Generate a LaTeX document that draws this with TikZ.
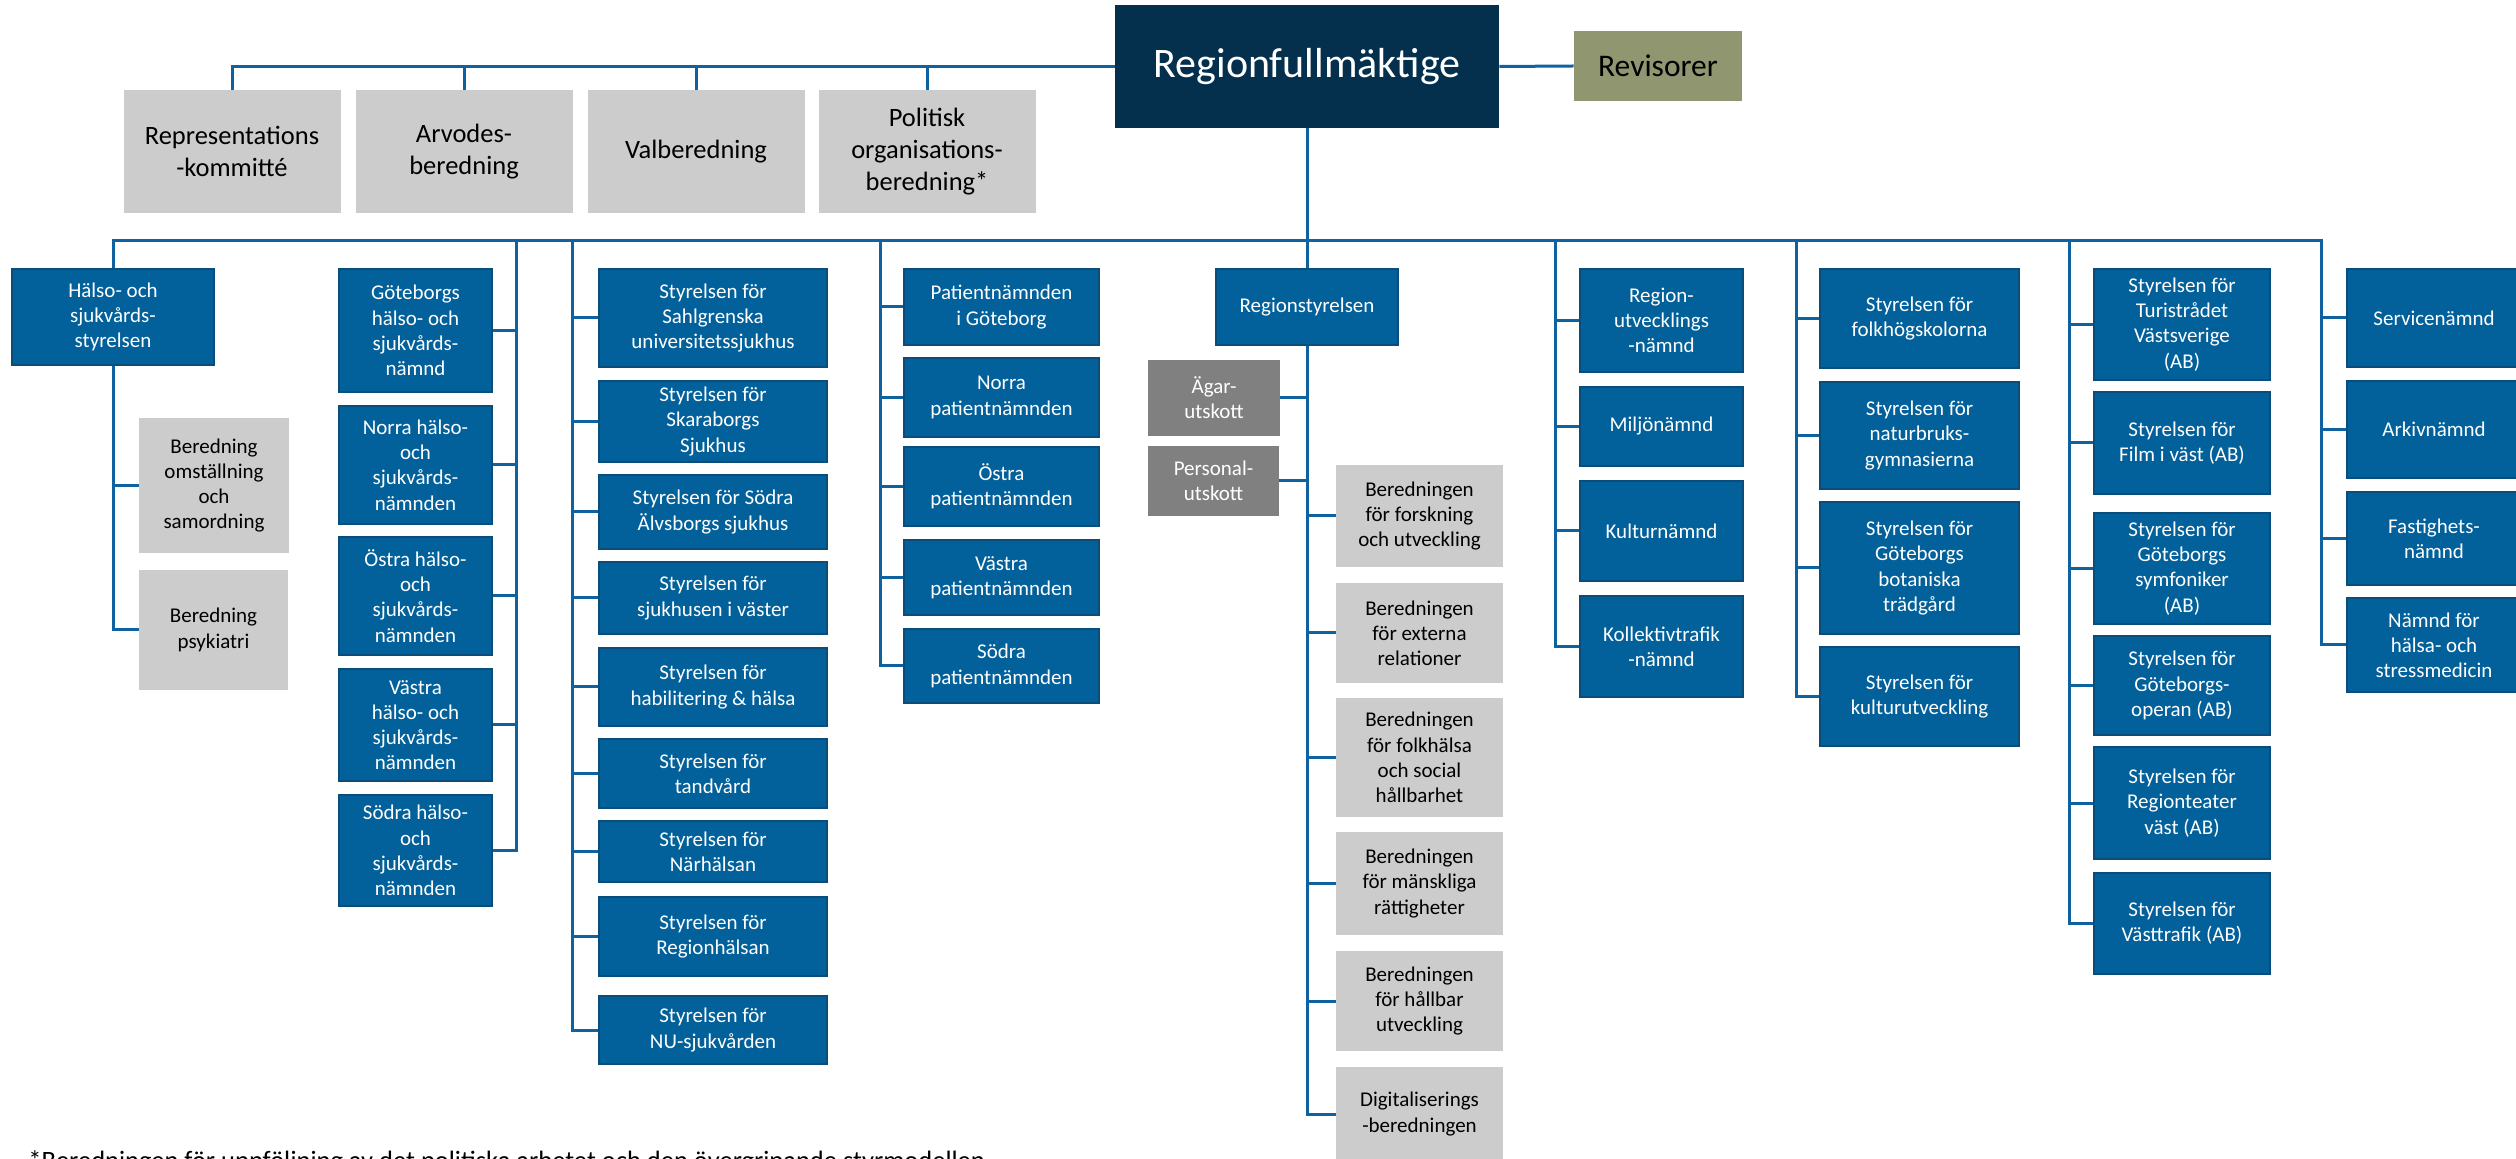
\documentclass[tikz,border=0pt]{standalone}
\usepackage{fontspec}
\setmainfont{Carlito}
\definecolor{rfblue}{HTML}{04304D}
\definecolor{boxblue}{HTML}{02609A}
\definecolor{boxedge}{HTML}{0A4C7A}
\definecolor{linkblue}{HTML}{0E62A0}
\definecolor{lightgrey}{HTML}{CCCCCC}
\definecolor{darkgrey}{HTML}{808080}
\definecolor{revgreen}{HTML}{8F9670}
\begin{document}
\begin{tikzpicture}[x=0.5pt,y=-0.5pt,wh/.style 2 args={minimum width={#1*0.5pt},minimum height={#2*0.5pt}}]
		\tikzstyle{blue box}=[rectangle, fill=boxblue, draw=boxedge, line width=1pt, text=white, align=center, inner sep=1pt, font=\fontsize{10.5}{12.6}\selectfont]
		\tikzstyle{grey box}=[rectangle, fill=lightgrey, text=black, align=center, inner sep=1pt, font=\fontsize{10.5}{12.6}\selectfont]
		\tikzstyle{dark box}=[grey box, fill=darkgrey, text=white]
		\tikzstyle{top box}=[grey box, font=\fontsize{13.25}{16}\selectfont]
		\tikzstyle{link}=[draw=linkblue, line width=1.5pt]

		\useasboundingbox (0,0) rectangle (2516,1159);

		% top level
		\node [rectangle, fill=rfblue, text=white, wh={384}{123}, font=\fontsize{21}{25}\selectfont] (rf) at (1307,66.5) {Regionfullmäktige};
		\node [rectangle, fill=revgreen, text=black, wh={168}{70}, font=\fontsize{15.75}{19}\selectfont] (rev) at (1658,66) {Revisorer};
		\node [top box, wh={217}{123}] (q1) at (232,151.5) {Representations\\-kommitté};
		\node [top box, wh={217}{123}] (q2) at (464,151.5) {Arvodes-\\beredning};
		\node [top box, wh={217}{123}] (q3) at (696,151.5) {Valberedning};
		\node [top box, wh={217}{123}] (q4) at (927,151.5) {Politisk\\organisations-\\beredning*};

		% column 1
		\node [blue box, wh={202}{96}] (h1) at (113,317) {Hälso- och\\sjukvårds-\\styrelsen};
		\node [grey box, wh={150}{135}] (b1) at (214,485.5) {Beredning\\omställning\\och\\samordning};
		\node [grey box, wh={149}{120}] (b2) at (213.5,630) {Beredning\\psykiatri};

		% column 2
		\node [blue box, wh={153}{123}] (g1) at (415.5,330.5) {Göteborgs\\hälso- och\\sjukvårds-\\nämnd};
		\node [blue box, wh={153}{118}] (g2) at (415.5,465) {Norra hälso-\\och\\sjukvårds-\\nämnden};
		\node [blue box, wh={153}{118}] (g3) at (415.5,596) {Östra hälso-\\och\\sjukvårds-\\nämnden};
		\node [blue box, wh={153}{112}] (g4) at (415.5,725) {Västra\\hälso- och\\sjukvårds-\\nämnden};
		\node [blue box, wh={153}{111}] (g5) at (415.5,850.5) {Södra hälso-\\och\\sjukvårds-\\nämnden};

		% column 3
		\node [blue box, wh={228}{98}] (s1) at (713,318) {Styrelsen för\\Sahlgrenska\\universitetssjukhus};
		\node [blue box, wh={228}{81}] (s2) at (713,421.5) {Styrelsen för\\Skaraborgs\\Sjukhus};
		\node [blue box, wh={228}{74}] (s3) at (713,512) {Styrelsen för Södra\\Älvsborgs sjukhus};
		\node [blue box, wh={228}{72}] (s4) at (713,598) {Styrelsen för\\sjukhusen i väster};
		\node [blue box, wh={228}{78}] (s5) at (713,687) {Styrelsen för\\habilitering \& hälsa};
		\node [blue box, wh={228}{69}] (s6) at (713,773.5) {Styrelsen för\\tandvård};
		\node [blue box, wh={228}{61}] (s7) at (713,851.5) {Styrelsen för\\Närhälsan};
		\node [blue box, wh={228}{79}] (s8) at (713,936.5) {Styrelsen för\\Regionhälsan};
		\node [blue box, wh={228}{68}] (s9) at (713,1030) {Styrelsen för\\NU-sjukvården};

		% column 4
		\node [blue box, wh={195}{76}] (p1) at (1001.5,307) {Patientnämnden\\i Göteborg};
		\node [blue box, wh={195}{79}] (p2) at (1001.5,397.5) {Norra\\patientnämnden};
		\node [blue box, wh={195}{79}] (p3) at (1001.5,486.5) {Östra\\patientnämnden};
		\node [blue box, wh={195}{75}] (p4) at (1001.5,577.5) {Västra\\patientnämnden};
		\node [blue box, wh={195}{74}] (p5) at (1001.5,666) {Södra\\patientnämnden};

		% column 5
		\node [blue box, wh={182}{76}] (rs) at (1307,307) {Regionstyrelsen};
		\node [dark box, wh={132}{76}] (a1) at (1214,398) {Ägar-\\utskott};
		\node [dark box, wh={131}{70}] (a2) at (1213.5,481) {Personal-\\utskott};
		\node [grey box, wh={167}{102}] (r1) at (1419.5,516) {Beredningen\\för forskning\\och utveckling};
		\node [grey box, wh={167}{100}] (r2) at (1419.5,633) {Beredningen\\för externa\\relationer};
		\node [grey box, wh={167}{119}] (r3) at (1419.5,757.5) {Beredningen\\för folkhälsa\\och social\\hållbarhet};
		\node [grey box, wh={167}{103}] (r4) at (1419.5,883.5) {Beredningen\\för mänskliga\\rättigheter};
		\node [grey box, wh={167}{100}] (r5) at (1419.5,1001) {Beredningen\\för hållbar\\utveckling};
		\node [grey box, wh={167}{94}] (r6) at (1419.5,1114) {Digitaliserings\\-beredningen};

		% column 6
		\node [blue box, wh={163}{103}] (e1) at (1661.5,320.5) {Region-\\utvecklings\\-nämnd};
		\node [blue box, wh={163}{79}] (e2) at (1661.5,426.5) {Miljönämnd};
		\node [blue box, wh={163}{100}] (e3) at (1661.5,531) {Kulturnämnd};
		\node [blue box, wh={163}{101}] (e4) at (1661.5,646.5) {Kollektivtrafik\\-nämnd};

		% column 7
		\node [blue box, wh={199}{99}] (f1) at (1919.5,318.5) {Styrelsen för\\folkhögskolorna};
		\node [blue box, wh={199}{107}] (f2) at (1919.5,435.5) {Styrelsen för\\naturbruks-\\gymnasierna};
		\node [blue box, wh={199}{132}] (f3) at (1919.5,568) {Styrelsen för\\Göteborgs\\botaniska\\trädgård};
		\node [blue box, wh={199}{99}] (f4) at (1919.5,696.5) {Styrelsen för\\kulturutveckling};

		% column 8
		\node [blue box, wh={176}{111}] (t1) at (2182,324.5) {Styrelsen för\\Turistrådet\\Västsverige\\(AB)};
		\node [blue box, wh={176}{102}] (t2) at (2182,443) {Styrelsen för\\Film i väst (AB)};
		\node [blue box, wh={176}{111}] (t3) at (2182,568.5) {Styrelsen för\\Göteborgs\\symfoniker\\(AB)};
		\node [blue box, wh={176}{99}] (t4) at (2182,685.5) {Styrelsen för\\Göteborgs-\\operan (AB)};
		\node [blue box, wh={176}{112}] (t5) at (2182,803) {Styrelsen för\\Regionteater\\väst (AB)};
		\node [blue box, wh={176}{101}] (t6) at (2182,923.5) {Styrelsen för\\Västtrafik (AB)};

		% column 9
		\node [blue box, wh={174}{98}] (n1) at (2434,318) {Servicenämnd};
		\node [blue box, wh={174}{97}] (n2) at (2434,429.5) {Arkivnämnd};
		\node [blue box, wh={174}{93}] (n3) at (2434,538.5) {Fastighets-\\nämnd};
		\node [blue box, wh={174}{94}] (n4) at (2434,645) {Nämnd för\\hälsa- och\\stressmedicin};

		\node [anchor=base west, inner sep=0pt, font=\fontsize{13.25}{16}\selectfont] (note) at (28,1169) {*Beredningen för uppföljning av det politiska arbetet och den övergripande styrmodellen};

		% connectors
		\coordinate (busl) at (113,241);
		\coordinate (busr) at (2321,241);
		\coordinate (v2) at (516,241);
		\coordinate (v3) at (572,241);
		\coordinate (v4) at (880,241);
		\coordinate (v6) at (1555,241);
		\coordinate (v7) at (1796,241);
		\coordinate (v8) at (2069,241);

		\draw [link] (q1.north) |- (rf.west);
		\draw [link] (q2.north) -- (q2.north |- rf.west);
		\draw [link] (q3.north) -- (q3.north |- rf.west);
		\draw [link] (q4.north) -- (q4.north |- rf.west);
		\draw [link] (rf.east) -- (rev.west);
		\draw [link] (rf.south) -- (rs.north);
		\draw [link] (h1.north) -- (busl) -- (busr) |- (n4.west);

		\draw [link] (h1.south) |- (b2.west);
		\draw [link] (b1.west) -- (b1.west -| h1.south);

		\draw [link] (v2) |- (g5.east);
		\draw [link] (g1.east) -- (g1.east -| v2);
		\draw [link] (g2.east) -- (g2.east -| v2);
		\draw [link] (g3.east) -- (g3.east -| v2);
		\draw [link] (g4.east) -- (g4.east -| v2);

		\draw [link] (v3) |- (s9.west);
		\draw [link] (s1.west) -- (s1.west -| v3);
		\draw [link] (s2.west) -- (s2.west -| v3);
		\draw [link] (s3.west) -- (s3.west -| v3);
		\draw [link] (s4.west) -- (s4.west -| v3);
		\draw [link] (s5.west) -- (s5.west -| v3);
		\draw [link] (s6.west) -- (s6.west -| v3);
		\draw [link] (s7.west) -- (s7.west -| v3);
		\draw [link] (s8.west) -- (s8.west -| v3);

		\draw [link] (v4) |- (p5.west);
		\draw [link] (p1.west) -- (p1.west -| v4);
		\draw [link] (p2.west) -- (p2.west -| v4);
		\draw [link] (p3.west) -- (p3.west -| v4);
		\draw [link] (p4.west) -- (p4.west -| v4);

		\draw [link] (rs.south) |- (r6.west);
		\draw [link] (a1.east) -- (a1.east -| rs.south);
		\draw [link] (a2.east) -- (a2.east -| rs.south);
		\draw [link] (r1.west) -- (r1.west -| rs.south);
		\draw [link] (r2.west) -- (r2.west -| rs.south);
		\draw [link] (r3.west) -- (r3.west -| rs.south);
		\draw [link] (r4.west) -- (r4.west -| rs.south);
		\draw [link] (r5.west) -- (r5.west -| rs.south);

		\draw [link] (v6) |- (e4.west);
		\draw [link] (e1.west) -- (e1.west -| v6);
		\draw [link] (e2.west) -- (e2.west -| v6);
		\draw [link] (e3.west) -- (e3.west -| v6);

		\draw [link] (v7) |- (f4.west);
		\draw [link] (f1.west) -- (f1.west -| v7);
		\draw [link] (f2.west) -- (f2.west -| v7);
		\draw [link] (f3.west) -- (f3.west -| v7);

		\draw [link] (v8) |- (t6.west);
		\draw [link] (t1.west) -- (t1.west -| v8);
		\draw [link] (t2.west) -- (t2.west -| v8);
		\draw [link] (t3.west) -- (t3.west -| v8);
		\draw [link] (t4.west) -- (t4.west -| v8);
		\draw [link] (t5.west) -- (t5.west -| v8);

		\draw [link] (n1.west) -- (n1.west -| busr);
		\draw [link] (n2.west) -- (n2.west -| busr);
		\draw [link] (n3.west) -- (n3.west -| busr);
	\end{tikzpicture}
\end{document}
